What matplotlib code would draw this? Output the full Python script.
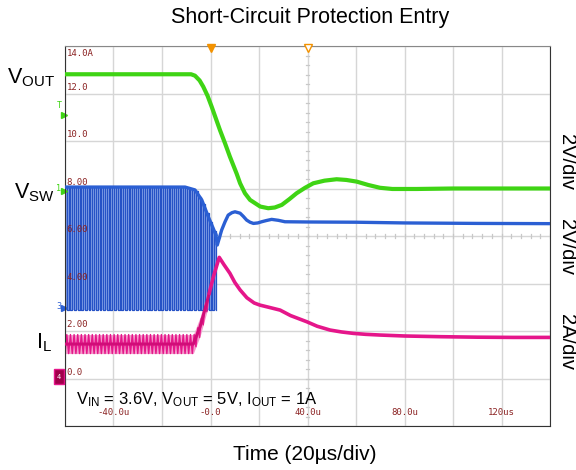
import numpy as np
import matplotlib
matplotlib.use("Agg")
import matplotlib.pyplot as plt
from matplotlib.patches import Rectangle

plt.rcParams['font.family'] = ['Liberation Sans', 'DejaVu Sans']
plt.rcParams['mathtext.fontset'] = 'custom'
plt.rcParams['mathtext.rm'] = 'Liberation Sans'
plt.rcParams['mathtext.it'] = 'Liberation Sans:italic'

# ---------------- data (scope display units: divisions*2, time in us) -------------
vout_t = [-60, -8.0, -6.4, -4.5, -3.0, -1.2, 0.5, 2.2, 3.9, 6.0, 8.0, 10.8, 12.2, 14.2,
          16.3, 18.4, 20.5, 23.8, 26.5, 29.4, 32.5, 35.5, 39.0, 42.4, 47.0, 52.0,
          56.0, 60.3, 65.0, 69.9, 75.0, 85.0, 100.0, 120.0, 140.0]
vout_v = [12.81, 12.81, 12.75, 12.55, 12.29, 11.90, 11.44, 10.95, 10.46, 9.90, 9.34,
          8.62, 8.22, 7.80, 7.52, 7.38, 7.24, 7.17, 7.20, 7.31, 7.55, 7.80, 8.03, 8.22,
          8.33, 8.39, 8.36, 8.29, 8.15, 8.03, 7.98, 7.98, 8.00, 8.00, 8.00]

# switch node: envelope while switching, then continuous trace
vsw_env_t = [-60, -10.5, -6.4, -3.6, -0.9, 1.0, 2.2]
vsw_env_hi = [8.06, 8.06, 7.94, 7.52, 6.81, 6.35, 6.05]
vsw_low = 2.90
vsw_t = [2.2, 2.8, 3.6, 4.6, 6.0, 7.3, 8.8, 10.1, 12.2, 13.5, 14.9, 16.3, 17.7, 19.5,
         21.1, 23.0, 25.2, 28.0, 30.7, 40.0, 60.0, 80.0, 110.0, 140.0]
vsw_v = [6.05, 5.62, 5.90, 6.25, 6.60, 6.88, 6.98, 7.02, 6.96, 6.83, 6.67, 6.58, 6.53,
         6.55, 6.60, 6.65, 6.70, 6.66, 6.60, 6.59, 6.58, 6.55, 6.53, 6.52]
sw_period = 1.5   # us, switching period seen on the capture

# inductor current
il_center_t = [-60, -7.1, -4.3, -1.6, -0.5]
il_center_v = [1.45, 1.45, 2.18, 3.17, 3.60]
il_ripple = 0.40
il_t = [-0.5, 1.2, 3.6, 5.5, 8.0, 10.0, 12.2, 15.0, 18.0, 20.4, 24.0, 28.7, 33.0,
        39.7, 44.0, 49.3, 54.0, 58.9, 64.0, 69.9, 80.0, 95.0, 110.0, 125.0, 140.0]
il_v = [3.60, 4.29, 5.10, 4.80, 4.43, 4.05, 3.73, 3.40, 3.18, 3.09, 3.00, 2.88, 2.65,
        2.39, 2.20, 2.04, 1.96, 1.90, 1.86, 1.83, 1.79, 1.76, 1.74, 1.73, 1.73]

x_tick_vals = [-40, 0, 40, 80, 120]
x_tick_labels = ["-40.0u", "-0.0", "40.0u", "80.0u", "120us"]
y_tick_vals = [14, 12, 10, 8, 6, 4, 2, 0]
y_tick_labels = ["14.0A", "12.0", "10.0", "8.00", "6.00", "4.00", "2.00", "0.0"]

GREEN = '#3fd414'
BLUE = '#2b5fd3'
MAG = '#e5168a'
TICKRED = '#8b2323'

# ---------------- figure ----------------
fig = plt.figure(figsize=(5.76, 4.70), dpi=100)
ax = fig.add_axes([65/576, 1-426/470, 485/576, 380/470])
ax.set_xlim(-60, 140)
ax.set_ylim(-2, 14)

# grid
for gx in np.arange(-60, 141, 20):
    ax.axvline(gx, color='#d6d6d6', lw=1.0, zorder=0)
for gy in np.arange(-2, 14.1, 2):
    ax.axhline(gy, color='#d6d6d6', lw=1.0, zorder=0)
# center crosshair minor ticks
for mx in np.arange(-60, 140.1, 4):
    ax.plot([mx, mx], [5.92, 6.08], color='#c8c8c8', lw=0.9, zorder=0)
for my in np.arange(-2, 14.01, 0.4):
    ax.plot([39.2, 40.8], [my, my], color='#c8c8c8', lw=0.9, zorder=0)

ax.set_xticks([]); ax.set_yticks([])
for s in ['left', 'right', 'bottom']:
    ax.spines[s].set_color('#333333')
ax.spines['top'].set_color('#888888')

# ---- Vsw switching ----
env_t_dense = np.linspace(-60, vsw_env_t[-1], 200)
ax.fill_between(env_t_dense, vsw_low, np.interp(env_t_dense, vsw_env_t, vsw_env_hi),
                color='#8eaaea', lw=0, zorder=1)
sw_x, sw_y = [], []
t0 = -60.0
while t0 < vsw_env_t[-1]:
    hi = np.interp(t0, vsw_env_t, vsw_env_hi)
    t1 = min(t0 + 0.5*sw_period, vsw_env_t[-1])
    sw_x += [t0, t0, t1, t1]
    sw_y += [vsw_low, hi, hi, vsw_low]
    t0 += sw_period
ax.plot(sw_x, sw_y, color='#2652c6', lw=0.9, zorder=2)
ax.plot(vsw_env_t, vsw_env_hi, color=BLUE, lw=2.4, zorder=3)
ax.plot(vsw_t, vsw_v, color=BLUE, lw=2.4, zorder=3)

# ---- IL ripple ----
il_dense = np.linspace(-60, il_center_t[-1], 200)
il_c = np.interp(il_dense, il_center_t, il_center_v)
ax.fill_between(il_dense, il_c - il_ripple, il_c + il_ripple, color='#f49ccc', lw=0, zorder=1)
il_x, il_y = [], []
t0 = -60.0
while t0 < il_center_t[-1]:
    c = np.interp(t0, il_center_t, il_center_v)
    il_x += [t0, t0 + 0.5*sw_period]
    il_y += [c - il_ripple, c + il_ripple]
    t0 += sw_period
ax.plot(il_x, il_y, color=MAG, lw=1.0, zorder=2)
ax.plot(il_center_t, il_center_v, color='#d10c78', lw=2.2, zorder=3)
ax.plot(il_t, il_v, color=MAG, lw=2.6, zorder=3)

# ---- Vout ----
ax.plot(vout_t, vout_v, color=GREEN, lw=3.0, zorder=4)

# tick labels inside plot
for v, lab in zip(y_tick_vals, y_tick_labels):
    va = 'top' if v == 14 else 'bottom'
    yy = v - 0.12 if v == 14 else v + 0.08
    ax.text(-59.3, yy, lab, color=TICKRED, fontsize=6.5, family='DejaVu Sans Mono',
            ha='left', va=va, zorder=5)
for v, lab in zip(x_tick_vals, x_tick_labels):
    ax.text(v, -1.45, lab, color=TICKRED, fontsize=6.5, family='DejaVu Sans Mono',
            ha='center', va='center', zorder=5)

# trigger markers at top
ax.plot([0], [13.93], marker='v', color='#f39200', ms=6, clip_on=False, zorder=6)
ax.plot([40], [13.93], marker='v', mfc='white', mec='#f39200', ms=6, clip_on=False, zorder=6)

# channel markers on left edge
ax.plot([-60.6], [11.1], marker='>', color=GREEN, ms=4, clip_on=False)
ax.text(-61.3, 11.5, 'T', color=GREEN, fontsize=6, ha='right', va='center', family='DejaVu Sans Mono')
ax.plot([-60.6], [7.9], marker='>', color=GREEN, ms=4, clip_on=False)
ax.text(-61.5, 8.0, '1', color=GREEN, fontsize=6, ha='right', va='center', family='DejaVu Sans Mono')
ax.plot([-60.6], [2.95], marker='>', color=BLUE, ms=4, clip_on=False)
ax.text(-61.5, 3.05, '3', color=BLUE, fontsize=6, ha='right', va='center', family='DejaVu Sans Mono')
ax.add_patch(Rectangle((-64.5, -0.25), 4.0, 0.65, transform=ax.transData, clip_on=False,
                       facecolor='#a0004a', edgecolor=MAG, lw=1.0, zorder=6))
ax.text(-62.5, 0.08, '4', color='white', fontsize=5, ha='center', va='center', zorder=7,
        family='DejaVu Sans Mono', clip_on=False)

# annotation
ax.text(-55.5, -0.9, r'$\mathrm{V_{IN}}$ = 3.6V, $\mathrm{V_{OUT}}$ = 5V, $\mathrm{I_{OUT}}$ = 1A',
        fontsize=12, ha='left', va='center', zorder=6)

# titles and labels
fig.text(310/576, 1-18/470, 'Short-Circuit Protection Entry', fontsize=15.5, ha='center', va='center')
fig.text(305/576, 1-455/470, 'Time (20µs/div)', fontsize=15, ha='center', va='center')
fig.text(7/576, 1-78/470, r'$\mathrm{V_{OUT}}$', fontsize=15.5, ha='left', va='center')
fig.text(14/576, 1-193/470, r'$\mathrm{V_{SW}}$', fontsize=15.5, ha='left', va='center')
fig.text(36/576, 1-343/470, r'$\mathrm{I_{L}}$', fontsize=15.5, ha='left', va='center')
for yy, lab in [(162, '2V/div'), (247, '2V/div'), (342, '2A/div')]:
    fig.text(566/576, 1-yy/470, lab, fontsize=14.5, rotation=-90, ha='center', va='center')

fig.savefig('out.png', dpi=100)
